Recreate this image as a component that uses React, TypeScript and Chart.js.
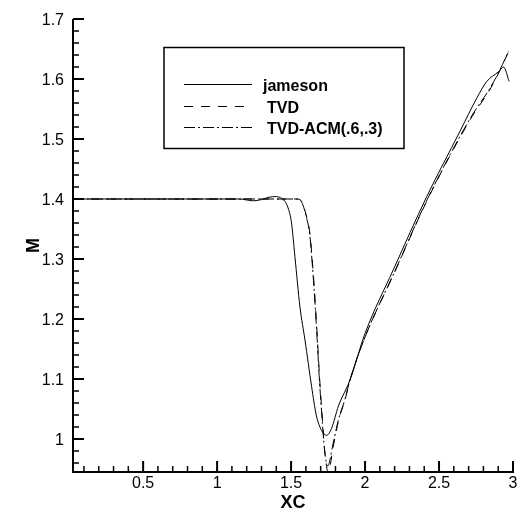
import React, { useEffect, useRef } from "react";
import { Chart, registerables } from "chart.js";

Chart.register(...registerables);

// ---- data ----
const jamesonX = [0.026, 0.2, 0.5, 0.8, 1.0, 1.15, 1.244, 1.3, 1.35, 1.402, 1.43, 1.458, 1.48, 1.503, 1.526, 1.56, 1.594, 1.639, 1.67, 1.695, 1.717, 1.74, 1.774, 1.82, 1.898, 2.0, 2.191, 2.417, 2.642, 2.755, 2.823, 2.902, 2.936, 2.974];
const jamesonM = [1.4, 1.4, 1.4, 1.4, 1.4, 1.4, 1.397, 1.399, 1.403, 1.404, 1.402, 1.396, 1.385, 1.36, 1.304, 1.22, 1.165, 1.087, 1.04, 1.02, 1.01, 1.006, 1.018, 1.055, 1.098, 1.176, 1.282, 1.404, 1.513, 1.568, 1.596, 1.612, 1.62, 1.596];

const tvdX = [0.026, 0.5, 1.0, 1.3, 1.5, 1.537, 1.56, 1.582, 1.605, 1.627, 1.65, 1.672, 1.695, 1.707, 1.729, 1.751, 1.785, 1.82, 1.864, 1.9, 2.0, 2.2, 2.42, 2.71, 2.85, 2.913, 2.969];
const tvdM = [1.4, 1.4, 1.4, 1.4, 1.4, 1.4, 1.399, 1.39, 1.37, 1.343, 1.276, 1.193, 1.093, 1.05, 0.976, 0.945, 0.987, 1.03, 1.065, 1.1, 1.17, 1.278, 1.398, 1.532, 1.585, 1.615, 1.645];

const acmX = [0.026, 0.5, 1.0, 1.3, 1.5, 1.535, 1.558, 1.58, 1.603, 1.625, 1.648, 1.67, 1.693, 1.705, 1.727, 1.748, 1.782, 1.82, 1.864, 1.9, 2.0, 2.2, 2.42, 2.71, 2.85, 2.913, 2.969];
const acmM = [1.4, 1.4, 1.4, 1.4, 1.4, 1.4, 1.399, 1.39, 1.37, 1.343, 1.276, 1.193, 1.093, 1.05, 0.98, 0.955, 0.99, 1.032, 1.066, 1.1, 1.17, 1.279, 1.399, 1.534, 1.587, 1.616, 1.646];

const seriesNames = ["jameson", "TVD", "TVD-ACM(.6,.3)"];

const xTickLabels = [0.5, 1, 1.5, 2, 2.5, 3];
const yTickLabels = [1, 1.1, 1.2, 1.3, 1.4, 1.5, 1.6, 1.7];
const xMinorTicks = [0.1, 0.2, 0.3, 0.4, 0.6, 0.7, 0.8, 0.9, 1.1, 1.2, 1.3, 1.4, 1.6, 1.7, 1.8, 1.9, 2.1, 2.2, 2.3, 2.4, 2.6, 2.7, 2.8, 2.9];
const yMinorTicks = [0.96, 0.98, 1.02, 1.04, 1.06, 1.08, 1.12, 1.14, 1.16, 1.18, 1.22, 1.24, 1.26, 1.28, 1.32, 1.34, 1.36, 1.38, 1.42, 1.44, 1.46, 1.48, 1.52, 1.54, 1.56, 1.58, 1.62, 1.64, 1.66, 1.68];

const X_MIN = 0.026;
const X_MAX = 3;
const Y_MIN = 0.945;
const Y_MAX = 1.7;

const FONT = "'Liberation Sans', Arial, sans-serif";
const dashStyles = [[], [9, 8], [11, 3, 2, 3]];

const toPoints = (xs: number[], ys: number[]) => xs.map((x, i) => ({ x, y: ys[i] }));

const decorPlugin = {
  id: "decor",
  beforeDraw(chart: any) {
    const ctx = chart.ctx;
    ctx.save();
    ctx.fillStyle = "#ffffff";
    ctx.fillRect(0, 0, chart.width, chart.height);
    ctx.restore();
  },
  afterDraw(chart: any) {
    const ctx = chart.ctx;
    const xs = chart.scales.x;
    const ys = chart.scales.y;
    const { left, right, top, bottom } = chart.chartArea;
    ctx.save();
    ctx.strokeStyle = "#000";
    ctx.fillStyle = "#000";
    // axes lines
    ctx.lineWidth = 2;
    ctx.beginPath();
    ctx.moveTo(left, top);
    ctx.lineTo(left, bottom);
    ctx.lineTo(right + 1, bottom);
    ctx.stroke();
    // major ticks
    ctx.lineWidth = 2;
    ctx.beginPath();
    xTickLabels.forEach((v) => {
      const p = xs.getPixelForValue(v);
      ctx.moveTo(p, bottom);
      ctx.lineTo(p, bottom - 11);
    });
    yTickLabels.forEach((v) => {
      const p = ys.getPixelForValue(v);
      ctx.moveTo(left, p);
      ctx.lineTo(left + 11, p);
    });
    ctx.stroke();
    // minor ticks
    ctx.lineWidth = 1.5;
    ctx.beginPath();
    xMinorTicks.forEach((v) => {
      const p = xs.getPixelForValue(v);
      ctx.moveTo(p, bottom);
      ctx.lineTo(p, bottom - 6);
    });
    yMinorTicks.forEach((v) => {
      const p = ys.getPixelForValue(v);
      ctx.moveTo(left, p);
      ctx.lineTo(left + 6, p);
    });
    ctx.stroke();
    // tick labels
    ctx.font = `16px ${FONT}`;
    ctx.textAlign = "center";
    ctx.textBaseline = "alphabetic";
    xTickLabels.forEach((v) => {
      ctx.fillText(String(v), xs.getPixelForValue(v), 488);
    });
    ctx.textAlign = "right";
    yTickLabels.forEach((v) => {
      ctx.fillText(String(v), left - 9, ys.getPixelForValue(v) + 6);
    });
    // axis titles
    ctx.font = `bold 18px ${FONT}`;
    ctx.textAlign = "center";
    ctx.fillText("XC", (left + right) / 2, 508);
    ctx.save();
    ctx.translate(39, (top + bottom) / 2);
    ctx.rotate(-Math.PI / 2);
    ctx.fillText("M", 0, 0);
    ctx.restore();
    // legend
    ctx.lineWidth = 1.5;
    ctx.strokeRect(164, 47.5, 240, 101);
    const rows = [84.5, 106.5, 127.5];
    ctx.font = `bold 16px ${FONT}`;
    ctx.textAlign = "left";
    seriesNames.forEach((name, i) => {
      ctx.lineWidth = 1;
      ctx.setLineDash(dashStyles[i]);
      ctx.beginPath();
      ctx.moveTo(184, rows[i]);
      ctx.lineTo(252, rows[i]);
      ctx.stroke();
      ctx.setLineDash([]);
      ctx.fillText(name, i === 0 ? 263 : 267, rows[i] + 6);
    });
    ctx.restore();
  },
};

export default function App() {
  const ref = useRef<HTMLCanvasElement | null>(null);
  useEffect(() => {
    if (!ref.current) return;
    const chart = new Chart(ref.current, {
      type: "scatter",
      data: {
        datasets: [
          { label: seriesNames[0], data: toPoints(jamesonX, jamesonM), showLine: true, borderColor: "#000", borderWidth: 1, pointRadius: 0, borderDash: dashStyles[0], cubicInterpolationMode: "monotone" },
          { label: seriesNames[1], data: toPoints(tvdX, tvdM), showLine: true, borderColor: "#000", borderWidth: 1, pointRadius: 0, borderDash: dashStyles[1], cubicInterpolationMode: "monotone" },
          { label: seriesNames[2], data: toPoints(acmX, acmM), showLine: true, borderColor: "#000", borderWidth: 1, pointRadius: 0, borderDash: dashStyles[2], cubicInterpolationMode: "monotone" },
        ],
      } as any,
      options: {
        responsive: false,
        animation: false,
        events: [],
        layout: { padding: { left: 73, right: 18, top: 19, bottom: 48 } },
        plugins: { legend: { display: false }, tooltip: { enabled: false } },
        scales: {
          x: { type: "linear", min: X_MIN, max: X_MAX, display: false },
          y: { type: "linear", min: Y_MIN, max: Y_MAX, display: false },
        },
      },
      plugins: [decorPlugin],
    });
    return () => chart.destroy();
  }, []);
  return (
    <div style={{ position: "absolute", left: 0, top: 0, width: 531, height: 520 }}>
      <canvas ref={ref} width={531} height={520} style={{ display: "block" }} />
    </div>
  );
}
